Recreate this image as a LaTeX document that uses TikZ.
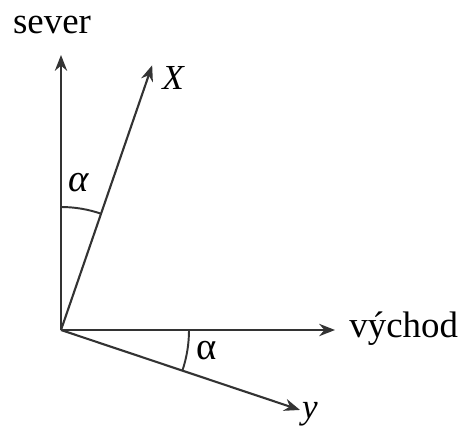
\documentclass[tikz,border=0pt]{standalone}
\usepackage{fontspec}
\setmainfont{Liberation Serif}
\usetikzlibrary{arrows.meta}

\begin{document}
\begin{tikzpicture}[x=0.02cm, y=0.02cm,
    axis/.style={line width=1.2pt, draw=black!80, -{Stealth[length=9pt, width=7pt]}},
    arc/.style={line width=1.1pt, draw=black!80},
    lab/.style={font=\fontsize{21}{24}\selectfont, inner sep=0pt},
    var/.style={font=\fontsize{20}{24}\selectfont\itshape, inner sep=0pt},
    ang/.style={font=\fontsize{22}{24}\selectfont, inner sep=0pt}
]
\useasboundingbox (-61,-100) rectangle (404,330);
\coordinate (O) at (0,0);
\coordinate (N) at (0,275);
\coordinate (E) at (274,0);
\coordinate (Xt) at (71:280);
\coordinate (yt) at (-18.5:252);
% axes
\draw[axis] (O) -- (N);
\draw[axis] (O) -- (E);
\draw[axis] (O) -- (Xt);
\draw[axis] (O) -- (yt);
% angle arcs
\draw[arc] (90:123) arc[start angle=90, end angle=71, radius=123];
\draw[arc] (0:128) arc[start angle=0, end angle=-18.5, radius=128];
% labels
\node[lab] (sever) at (-9,305) {sever};
\node[lab, anchor=west] (vychod) at (288,1) {východ};
\node[var] (labX) at (112,252) {X};
\node[var] (laby) at (249,-84) {y};
\node[ang, font=\fontsize{22}{24}\selectfont\itshape] (alphaN) at (18,147) {α};
\node[ang] (alphaE) at (146,-21) {α};
\end{tikzpicture}
\end{document}
